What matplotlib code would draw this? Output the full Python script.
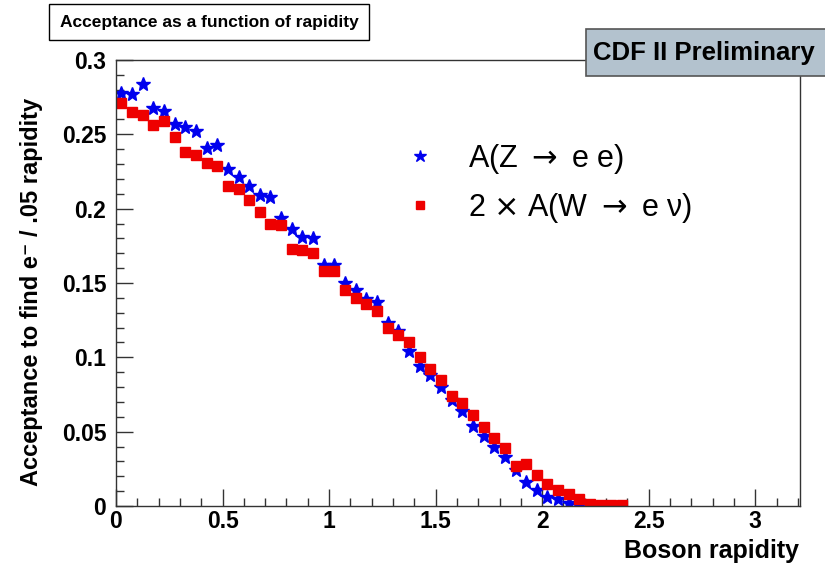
import numpy as np
import matplotlib
matplotlib.use("Agg")
import matplotlib.pyplot as plt
from matplotlib.patches import Rectangle
from matplotlib.ticker import MultipleLocator

# bin centres of .05 rapidity bins
bin_width = 0.05

acc_z = [0.278, 0.277, 0.284, 0.268, 0.266, 0.257, 0.255, 0.252, 0.241, 0.243,
         0.227, 0.221, 0.215, 0.209, 0.208, 0.194, 0.186, 0.181, 0.180, 0.162,
         0.162, 0.150, 0.145, 0.139, 0.137, 0.123, 0.118, 0.104, 0.094, 0.088,
         0.080, 0.071, 0.064, 0.054, 0.047, 0.040, 0.033, 0.024, 0.016, 0.011,
         0.006, 0.0045, 0.002, 0.0005]

acc_w = [0.271, 0.265, 0.263, 0.256, 0.259, 0.248, 0.238, 0.236, 0.231, 0.229,
         0.215, 0.2135, 0.206, 0.198, 0.190, 0.189, 0.173, 0.172, 0.170, 0.158,
         0.158, 0.1455, 0.140, 0.136, 0.131, 0.120, 0.115, 0.110, 0.100, 0.092,
         0.085, 0.074, 0.069, 0.061, 0.053, 0.046, 0.039, 0.027, 0.028, 0.021,
         0.015, 0.011, 0.008, 0.005, 0.0014, 0.0008, 0.0008, 0.0008]

x_z = bin_width * (np.arange(len(acc_z)) + 0.5)
x_w = bin_width * (np.arange(len(acc_w)) + 0.5)

plt.rcParams["font.family"] = ["Liberation Sans", "DejaVu Sans"]
plt.rcParams["mathtext.fontset"] = "dejavusans"

W, H = 825, 565
fig = plt.figure(figsize=(W / 100, H / 100), dpi=100)
ax = fig.add_axes([116 / W, 1 - 506 / H, (800 - 116) / W, (506 - 60) / H])

ax.plot(x_z, acc_z, ls="none", marker="*", ms=10.5, color="#0000ee", mec="#0000ee",
        label="A(Z $\\rightarrow$ e e)")
ax.plot(x_w, acc_w, ls="none", marker="s", ms=7, color="#ee0000", mec="#ee0000",
        label="2 $\\times$ A(W $\\rightarrow$ e \u03bd)")

ax.set_xlim(0, 3.21)
ax.set_ylim(0, 0.3)
ax.xaxis.set_major_locator(MultipleLocator(0.5))
ax.xaxis.set_minor_locator(MultipleLocator(0.1))
ax.yaxis.set_major_locator(MultipleLocator(0.05))
ax.yaxis.set_minor_locator(MultipleLocator(0.01))
ax.xaxis.set_major_formatter(plt.FuncFormatter(lambda v, p: f"{v:g}"))
ax.yaxis.set_major_formatter(plt.FuncFormatter(lambda v, p: f"{v:g}"))
ax.tick_params(which="both", direction="in", top=False, right=False,
               labelsize=16.5, width=1, color="#333333")
ax.tick_params(axis="y", which="major", length=12, pad=7)
ax.tick_params(axis="x", which="major", length=12, pad=3)
ax.tick_params(which="minor", length=6)
for lab in ax.get_xticklabels() + ax.get_yticklabels():
    lab.set_fontweight("bold")
for sp in ax.spines.values():
    sp.set_color("#333333")
    sp.set_linewidth(1)

fig.text(799 / W, 1 - 551 / H, "Boson rapidity", ha="right", va="center",
         fontsize=18, fontweight="bold")
fig.text(32 / W, 1 - 292 / H, "Acceptance to find e\u207b / .05 rapidity",
         ha="center", va="center", rotation=90, fontsize=17, fontweight="bold")

leg = ax.legend(loc="upper left", bbox_to_anchor=(0.36, 0.878), frameon=False,
                fontsize=22, handletextpad=0.55, labelspacing=0.5, numpoints=1,
                markerscale=0.85)

# title box
fig.text(209 / W, 1 - 22 / H, "Acceptance as a function of rapidity", ha="center",
         va="center", fontsize=12.5, fontweight="bold",
         bbox=dict(boxstyle="square,pad=0.6", fc="white", ec="black", lw=1))

# CDF label box
fig.patches.append(Rectangle((586 / W, 1 - 76 / H), (W - 586) / W + 0.01, 47 / H,
                             transform=fig.transFigure, fc="#b3c2ce", ec="#555555",
                             lw=1.2, zorder=5))
fig.text(593 / W, 1 - 53 / H, "CDF II Preliminary", ha="left", va="center",
         fontsize=18.5, fontweight="bold", zorder=6)

fig.savefig("out.png", dpi=100)
